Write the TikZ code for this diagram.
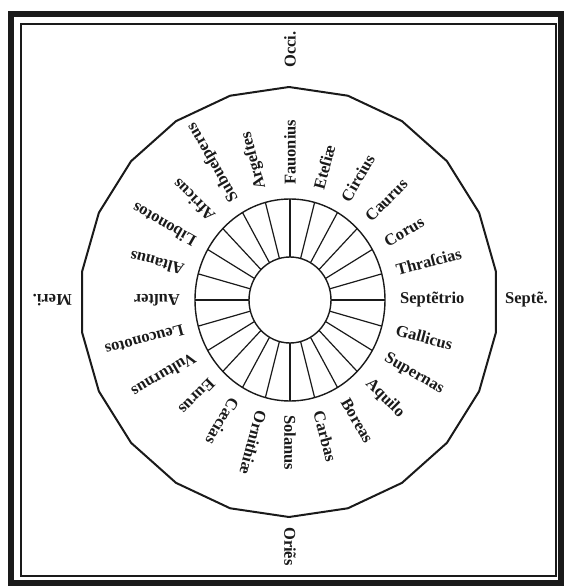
\documentclass[tikz,border=0pt]{standalone}
\usepackage{fontspec}
\setmainfont{Liberation Serif}
\usetikzlibrary{calc}
\definecolor{Ink}{HTML}{1A1A1A}
\newcommand{\Quarter}[4]{%
  \node[wind,rotate=#2] (#1) at (#2:#3) {#4};%
}

\begin{document}
\begin{tikzpicture}[x=1pt,y=1pt,
  wind/.style={anchor=west,inner sep=0pt,text=Ink,font=\fontsize{16.5}{18}\selectfont\bfseries}]
\useasboundingbox (-290,-288) rectangle (273,300);
\fill[white] (-290,-288) rectangle (273,300);
\draw[Ink,line width=6pt] (-279,286) rectangle (271,-283);
\draw[Ink,line width=1.4pt] (-269,276) rectangle (266,-276);
\draw[Ink,line width=2pt,line join=round,shift={(-1,-2)}] (90:209 and 215)
  \foreach \k in {1,...,21} { -- ({90+\k*360/22}:209 and 215) } -- cycle;
\draw[Ink,line width=1.4pt] (0,0) ellipse [x radius=41, y radius=43]
  (0,0) ellipse [x radius=95, y radius=101];
\foreach \a in {0,15,...,345}
  \draw[Ink,line width=1.2pt] (\a:41 and 43) -- (\a:95 and 101);
\foreach \w [count=\i] in {Fauonius,Eteſiæ,Circius,Caurus,Corus,Thraſcias,
  Septẽtrio,Gallicus,Supernas,Aquilo,Boreas,Carbas,Solanus,Ornithiæ,Cæcias,
  Eurus,Vulturnus,Leuconotos,Auſter,Altanus,Libonotos,Africus,Subueſperus,Argeſtes}
  \node[wind,rotate=105-15*\i] (w\i) at ({105-15*\i}:110 and 115) {\w};
\Quarter{occi}{90}{232}{Occi.}
\Quarter{septe}{0}{215}{Septẽ.}
\Quarter{oriens}{-90}{227}{Oriẽs}
\Quarter{meri}{180}{218}{Meri.}
\end{tikzpicture}
\end{document}
